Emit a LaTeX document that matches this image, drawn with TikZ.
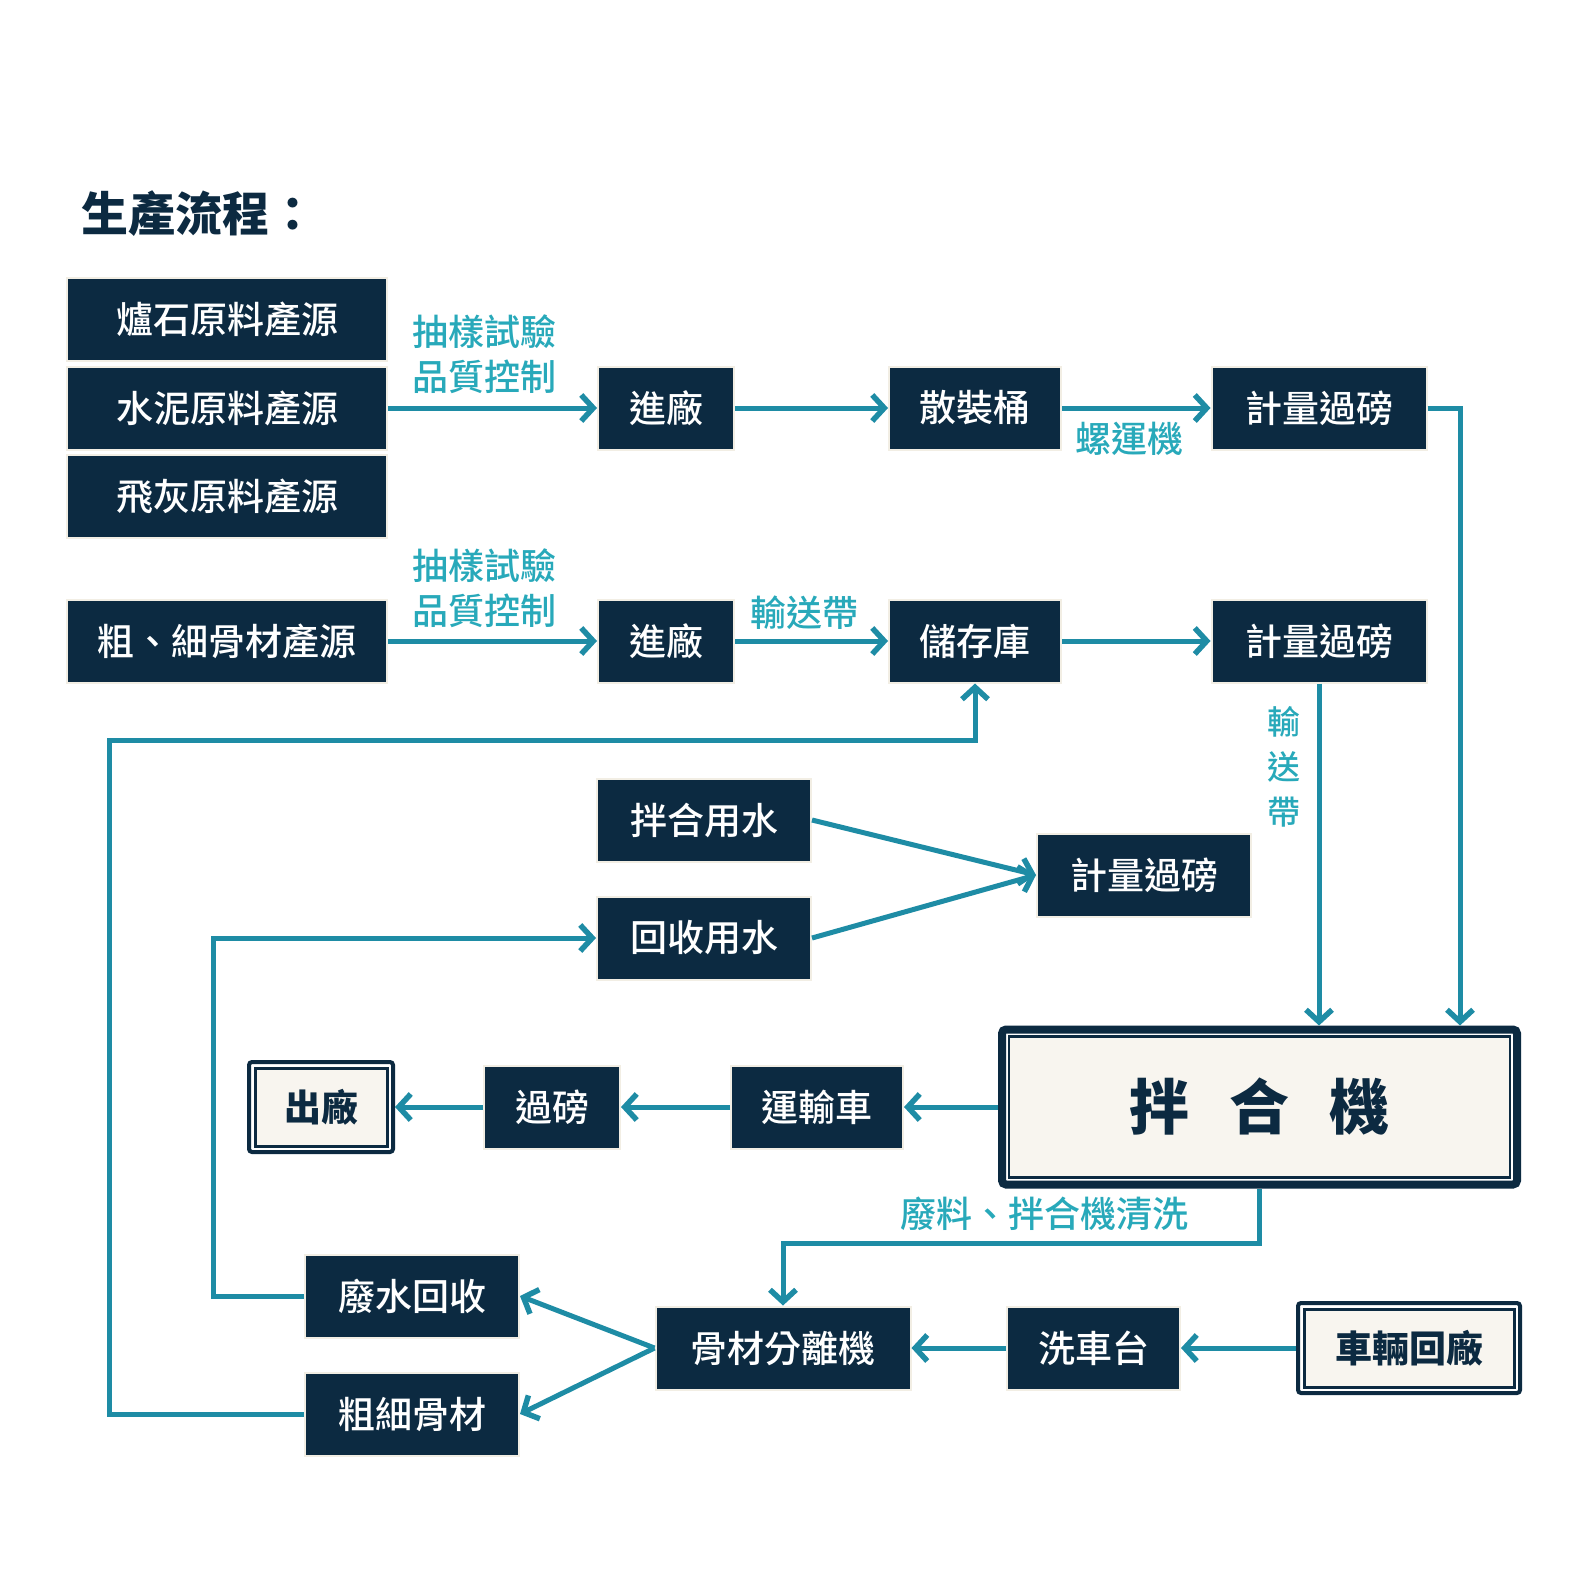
\documentclass[tikz,border=0pt]{standalone}
\usepackage{fontspec}
\setmainfont{Noto Sans CJK TC}
\newfontfamily\medium{Noto Sans CJK TC Medium}
\usepackage{tikz}
\usetikzlibrary{arrows.meta, positioning, calc}

\definecolor{navy}{HTML}{0C2A41}
\definecolor{flowteal}{HTML}{1E8CA5}
\definecolor{labelteal}{HTML}{28A9BA}
\definecolor{cream}{HTML}{F8F5EF}
\definecolor{rim}{HTML}{F2EEE4}

\begin{document}
\begin{tikzpicture}[x=1pt, y=-1pt,
  box/.style={fill=navy, draw=rim, line width=2pt, text=white, font=\fontsize{37}{40}\selectfont\medium, minimum height=83pt, inner sep=0pt},
  endbox/.style={fill=cream, draw=navy, line width=3pt, text=navy, font=\fontsize{37}{40}\selectfont\bfseries, minimum height=78pt, inner sep=0pt, outer sep=8pt},
  flow/.style={draw=flowteal, line width=5pt, -{Straight Barb[length=12pt, width=26pt, line width=5.5pt]}},
  tag/.style={text=labelteal, font=\fontsize{36}{45}\selectfont\medium, align=center, inner sep=0pt}]

\fill[white] (0,0) rectangle (1594,1595);
\useasboundingbox (0,0) rectangle (1594,1595);

% Title
\node[anchor=west, text=navy, font=\fontsize{47}{50}\selectfont\bfseries, inner sep=0pt] (title) at (81,214) {生產流程：};

% Raw material sources
\node[box, minimum width=320pt] (src1) at (227,319.5) {爐石原料產源};
\node[box, minimum width=320pt] (src2) at (227,408) {水泥原料產源};
\node[box, minimum width=320pt] (src3) at (227,496.5) {飛灰原料產源};
\node[box, minimum width=320pt] (agg) at (227,641) {粗、細骨材產源};

% Powder line
\node[box, minimum width=136pt] (in1) at (666,408) {進廠};
\node[box, minimum width=172pt] (bulk) at (975,408) {散裝桶};
\node[box, minimum width=215pt] (w1) at (1319,408) {計量過磅};

% Aggregate line
\node[box, minimum width=136pt] (in2) at (666,641) {進廠};
\node[box, minimum width=172pt] (store) at (975,641) {儲存庫};
\node[box, minimum width=215pt] (w2) at (1319,641) {計量過磅};

% Water
\node[box, minimum width=214pt] (mixw) at (704,820) {拌合用水};
\node[box, minimum width=214pt] (recw) at (704,938) {回收用水};
\node[box, minimum width=214pt] (w3) at (1144,875) {計量過磅};

% Mixer and delivery
\node[endbox, minimum width=501pt, minimum height=141pt, line width=2.5pt, outer sep=11pt, font=\fontsize{60}{64}\selectfont\bfseries] (mix) at (1259.5,1107) {拌\hspace{40pt}合\hspace{40pt}機};
\node[box, minimum width=172pt] (truck) at (817,1107) {運輸車};
\node[box, minimum width=136pt] (weigh) at (552,1107) {過磅};
\node[endbox, minimum width=132pt] (out) at (321,1107) {\medium 出廠};

% Return and washing
\node[box, minimum width=214pt] (wwr) at (412,1296) {廢水回收};
\node[box, minimum width=214pt] (agg2) at (412,1414) {粗細骨材};
\node[box, minimum width=255pt] (sep) at (783,1348) {骨材分離機};
\node[box, minimum width=173pt] (wash) at (1093.5,1348) {洗車台};
\node[endbox, minimum width=210pt] (back) at (1409,1348) {\medium 車輛回廠};

% Outer frames
\draw[navy, line width=8pt, rounded corners=4pt] ([shift={(4,4)}]mix.north west) rectangle ([shift={(-4,-4)}]mix.south east);
\foreach \n in {out, back}
  \draw[navy, line width=4pt, rounded corners=3pt] ([shift={(2,2)}]\n.north west) rectangle ([shift={(-2,-2)}]\n.south east);

% Flows
\draw[flow] (src2.east) -- (in1.west);
\draw[flow] (in1) -- (bulk);
\draw[flow] (bulk) -- (w1);
\coordinate (bend) at (1460,408);
\draw[flow] (w1.east) -- (bend) -- (bend |- mix.north);

\draw[flow] (agg.east) -- (in2.west);
\draw[flow] (in2) -- (store);
\draw[flow] (store) -- (w2);
\draw[flow] (w2.south) -- (w2.south |- mix.north);

\draw[flow] (mixw.east) -- (w3.west);
\draw[flow] (recw.east) -- (w3.west);

\draw[flow] (mix.west) -- (truck.east);
\draw[flow] (truck) -- (weigh);
\draw[flow] (weigh.west) -- (out.east);

\draw[flow] (mix.south) -- ++(0,55) -| (sep.north);
\draw[flow] (back.west) -- (wash.east);
\draw[flow] (wash) -- (sep);
\draw[flow] (sep.west) -- (wwr.east);
\draw[flow] (sep.west) -- (agg2.east);

% Recycling loops
\coordinate (ret) at (109,740);
\draw[flow] (agg2.west) -| (ret) -| (store.south);
\coordinate (wl) at (213,938);
\draw[flow] (wwr.west) -| (wl) -- (recw.west);

% Labels
\node[tag] (qc1) at (484,354) {抽樣試驗\\品質控制};
\node[tag] (qc2) at (484,588) {抽樣試驗\\品質控制};
\node[tag] (screw) at (1129,439) {螺運機};
\node[tag] (belt1) at (804,613) {輸送帶};
\node[tag, font=\fontsize{33}{45}\selectfont\medium] (belt2) at (1284,767) {輸\\送\\帶};
\node[tag] (waste) at (1044,1214) {廢料、拌合機清洗};
\end{tikzpicture}
\end{document}
